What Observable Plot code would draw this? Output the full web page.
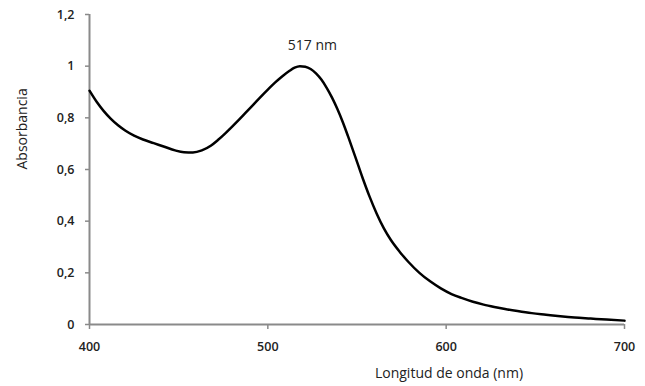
<!DOCTYPE html>
<html>
<head>
<meta charset="utf-8">
<script src="https://cdn.jsdelivr.net/npm/d3@7"></script>
<script src="https://cdn.jsdelivr.net/npm/@observablehq/plot@0.6"></script>
<style>
  html, body { margin: 0; padding: 0; background: #fff; }
  #chart { width: 645px; height: 386px; }
</style>
</head>
<body>
<div id="chart"></div>
<script>
const wavelength = [400, 404, 408, 412, 416, 420, 425, 430, 436, 442, 448, 453, 458, 463, 468, 472, 476, 480, 484, 488, 492, 496, 500, 504, 508, 512, 515, 518, 521, 524, 527, 530, 533, 536, 539, 542, 545, 549, 553, 557, 561, 565, 569, 574, 579, 585, 591, 597, 603, 609, 615, 621, 627, 633, 640, 648, 656, 664, 672, 681, 690, 700];
const absorbance = [0.905, 0.862, 0.826, 0.796, 0.771, 0.751, 0.731, 0.716, 0.702, 0.688, 0.674, 0.667, 0.666, 0.674, 0.692, 0.714, 0.739, 0.766, 0.794, 0.823, 0.852, 0.881, 0.909, 0.936, 0.960, 0.981, 0.994, 1.0, 0.998, 0.989, 0.972, 0.948, 0.916, 0.878, 0.834, 0.784, 0.728, 0.65, 0.57, 0.496, 0.43, 0.373, 0.327, 0.281, 0.241, 0.2, 0.167, 0.14, 0.118, 0.102, 0.088, 0.077, 0.068, 0.06, 0.052, 0.044, 0.038, 0.032, 0.027, 0.023, 0.019, 0.015];
const xTicks = [400, 500, 600, 700];
const yTicks = [0, 0.2, 0.4, 0.6, 0.8, 1, 1.2];
const peakLabel = [{x: 525, y: 1.08, text: "517 nm"}];
const xTitle = "Longitud de onda (nm)";
const yTitle = "Absorbancia";

const data = wavelength.map((w, i) => ({w, a: absorbance[i]}));
const fmt = d => String(d).replace(".", ",");
const axisColor = "#8a8a8a";
const font = "'Open Sans', sans-serif";

const chart = Plot.plot({
  width: 645,
  height: 386,
  marginLeft: 89,
  marginRight: 21,
  marginTop: 14,
  marginBottom: 62,
  style: {fontFamily: font, background: "#fff"},
  x: {domain: [400, 700]},
  y: {domain: [0, 1.2]},
  marks: [
    Plot.axisX({ticks: xTicks, tickFormat: fmt, tickSize: 5, tickPadding: 13, stroke: axisColor, strokeWidth: 1.5, fill: "#222", fontSize: 12.5, fontWeight: 600, label: null}),
    Plot.axisY({ticks: yTicks, tickFormat: fmt, tickSize: 4, tickPadding: 11, stroke: axisColor, strokeWidth: 1.5, fill: "#222", fontSize: 12.5, fontWeight: 600, label: null}),
    Plot.ruleX([400], {stroke: axisColor, strokeWidth: 2}),
    Plot.ruleY([0], {stroke: axisColor, strokeWidth: 2}),
    Plot.line(data, {x: "w", y: "a", stroke: "#000", strokeWidth: 2.5, curve: "monotone-x"}),
    Plot.text(peakLabel, {x: "x", y: "y", text: "text", fontSize: 14, fill: "#222"}),
    Plot.text([yTitle], {frameAnchor: "left", dx: -67, rotate: -90, fontSize: 14, fill: "#222"}),
    Plot.text([xTitle], {frameAnchor: "bottom", dx: 92, dy: 53, fontSize: 14, fill: "#222"})
  ]
});
document.getElementById("chart").appendChild(chart);
</script>
</body>
</html>
